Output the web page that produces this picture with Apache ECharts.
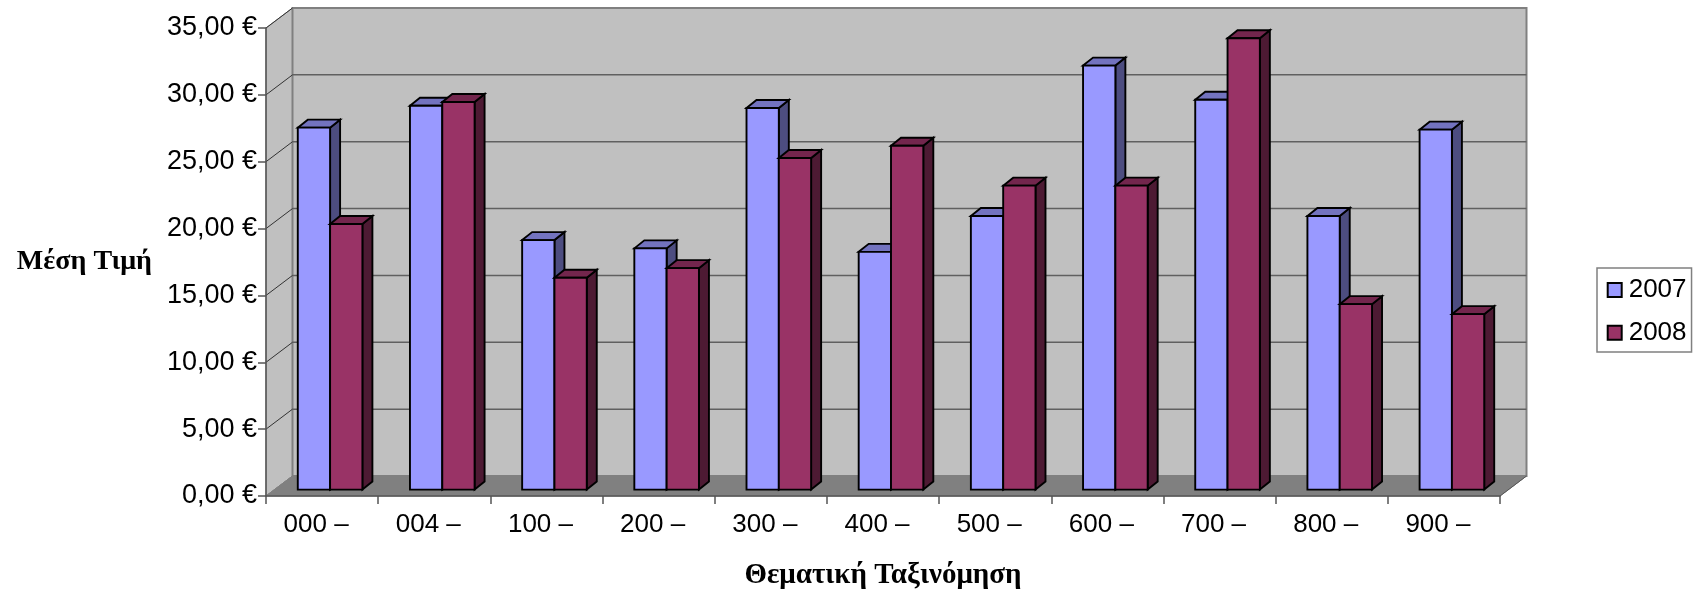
<!DOCTYPE html>
<html><head><meta charset="utf-8">
<style>html,body{margin:0;padding:0;background:#fff}#c{width:1695px;height:592px}</style>
<script src="https://cdn.jsdelivr.net/npm/echarts@6/dist/echarts.min.js"></script>
</head><body><div id="c"></div>
<script>
const categories = ['000 –','004 –','100 –','200 –','300 –','400 –','500 –','600 –','700 –','800 –','900 –'];
const values2007 = [27.07,28.71,18.66,18.04,28.54,17.78,20.46,31.71,29.16,20.46,26.92];
const values2008 = [19.86,28.99,15.84,16.56,24.8,25.72,22.73,22.73,33.76,13.87,13.12];
const yTicks = [0,5,10,15,20,25,30,35];
const palette = {
  2007:{front:'#9999ff',top:'#7373bf',side:'#4d4d80'},
  2008:{front:'#993366',top:'#73264d',side:'#4d1a33'}
};
const wall = {dx:26.5,dy:-20};       // depth of the chart box
const barPlane = {dx:8,dy:-6.4};     // where the bars stand on the floor
const barDepth = {dx:10,dy:-8};
const barShare = 0.288;              // bar width as share of a category

function poly(pts,fill,stroke,lw){
  return {type:'polygon',shape:{points:pts},style:{fill:fill,stroke:stroke||'none',lineWidth:lw||0,lineJoin:'miter'}};
}
function line(a,b,stroke,lw){
  return {type:'line',shape:{x1:a[0],y1:a[1],x2:b[0],y2:b[1]},style:{stroke:stroke,lineWidth:lw}};
}
function wallsItem(params,api){
  const band = api.size([1,0])[0];
  const y0 = api.coord([0,0])[1], yT = api.coord([0,yTicks[yTicks.length-1]])[1];
  const xL = api.coord([0,0])[0]-band/2, xR = api.coord([categories.length-1,0])[0]+band/2;
  const b = (x,y)=>[x+wall.dx,y+wall.dy];
  const ch = [
    poly([[xL,y0],[xL,yT],b(xL,yT),b(xL,y0)],'#c0c0c0','#808080',1),
    poly([b(xL,yT),b(xR,yT),b(xR,y0),b(xL,y0)],'#c0c0c0','#808080',2),
    poly([[xL,y0],[xR,y0],b(xR,y0),b(xL,y0)],'#808080','#808080',1)
  ];
  yTicks.forEach(t=>{
    const y = api.coord([0,t])[1];
    if(t>0){
      if(t<yTicks[yTicks.length-1]) ch.push(line(b(xL,y),b(xR,y),'#606060',1.5));
    }
    ch.push(line([xL,y],b(xL,y),t===0?'#808080':'#333333',1));
  });
  ch.push(line([xR,y0],b(xR,y0),'#555555',1));
  return {type:'group',children:ch};
}
function barItem(year,slot){
  return function(params,api){
    const i = api.value(0), v = api.value(1);
    const band = api.size([1,0])[0];
    const w = band*barShare;
    const c = api.coord([i,v]), z = api.coord([i,0]);
    const x0 = c[0]+barPlane.dx+(slot-1)*w, x1 = x0+w;
    const yt = c[1]+barPlane.dy, yb = z[1]+barPlane.dy;
    const d = barDepth, col = palette[year], lw=1.9, k='#000';
    return {type:'group',children:[
      poly([[x1,yt],[x1+d.dx,yt+d.dy],[x1+d.dx,yb+d.dy],[x1,yb]],col.side,k,lw),
      poly([[x0,yt],[x0+d.dx,yt+d.dy],[x1+d.dx,yt+d.dy],[x1,yt]],col.top,k,lw),
      poly([[x0,yt],[x1,yt],[x1,yb],[x0,yb]],col.front,k,lw)
    ]};
  };
}
const chart = echarts.init(document.getElementById('c'),null,{renderer:'canvas'});
const font = '"Liberation Sans",Arial,sans-serif';
chart.setOption({
  animation:false,
  backgroundColor:'#fff',
  grid:{left:266,right:195,top:28,bottom:96,containLabel:false,outerBoundsMode:'none'},
  xAxis:{type:'category',data:categories,z:5,
    name:'Θεματική Ταξινόμηση',nameLocation:'middle',nameGap:65,
    nameTextStyle:{fontFamily:'"Liberation Serif",serif',fontWeight:'bold',fontSize:29,color:'#000'},
    axisLine:{show:true,lineStyle:{color:'#555',width:1.5}},
    axisTick:{show:true,length:8,alignWithLabel:false,lineStyle:{color:'#555',width:1.5}},
    axisLabel:{fontFamily:font,fontSize:26,color:'#000',margin:16,padding:[0,12,0,0],interval:0},
    splitLine:{show:false}},
  yAxis:{type:'value',min:0,max:35,interval:5,z:5,
    name:'Μέση Τιμή',nameLocation:'middle',nameRotate:0,nameGap:114,
    nameTextStyle:{fontFamily:'"Liberation Serif",serif',fontWeight:'bold',fontSize:28,color:'#000',padding:[0,0,20,0]},
    axisLine:{show:true,lineStyle:{color:'#555',width:1.5}},
    axisTick:{show:true,length:8,lineStyle:{color:'#555',width:1.5}},
    axisLabel:{fontFamily:font,fontSize:27,color:'#000',margin:9,padding:[2,0,0,0],
      formatter:v=>v.toFixed(2).replace('.',',')+' €'},
    splitLine:{show:false}},
  legend:{left:1597,top:268,orient:'vertical',data:['2007','2008'],
    itemWidth:14,itemHeight:14,itemGap:16.7,padding:[9,5,6.3,9.7],
    backgroundColor:'#fff',borderColor:'#808080',borderWidth:1.5,borderRadius:0,
    textStyle:{fontFamily:font,fontSize:26,color:'#000',padding:[0,0,0,2]},
    icon:'rect'},
  series:[
    {type:'custom',name:'walls',silent:true,z:1,clip:false,coordinateSystem:'cartesian2d',
      data:[[0,0]],encode:{x:0,y:1},renderItem:wallsItem},
    {type:'custom',name:'2007',z:2,clip:false,coordinateSystem:'cartesian2d',
      data:values2007.map((v,i)=>[i,v]),encode:{x:0,y:1},renderItem:barItem(2007,0),
      itemStyle:{color:palette[2007].front,borderColor:'#000',borderWidth:2}},
    {type:'custom',name:'2008',z:3,clip:false,coordinateSystem:'cartesian2d',
      data:values2008.map((v,i)=>[i,v]),encode:{x:0,y:1},renderItem:barItem(2008,1),
      itemStyle:{color:palette[2008].front,borderColor:'#000',borderWidth:2}}
  ]
});
</script></body></html>
